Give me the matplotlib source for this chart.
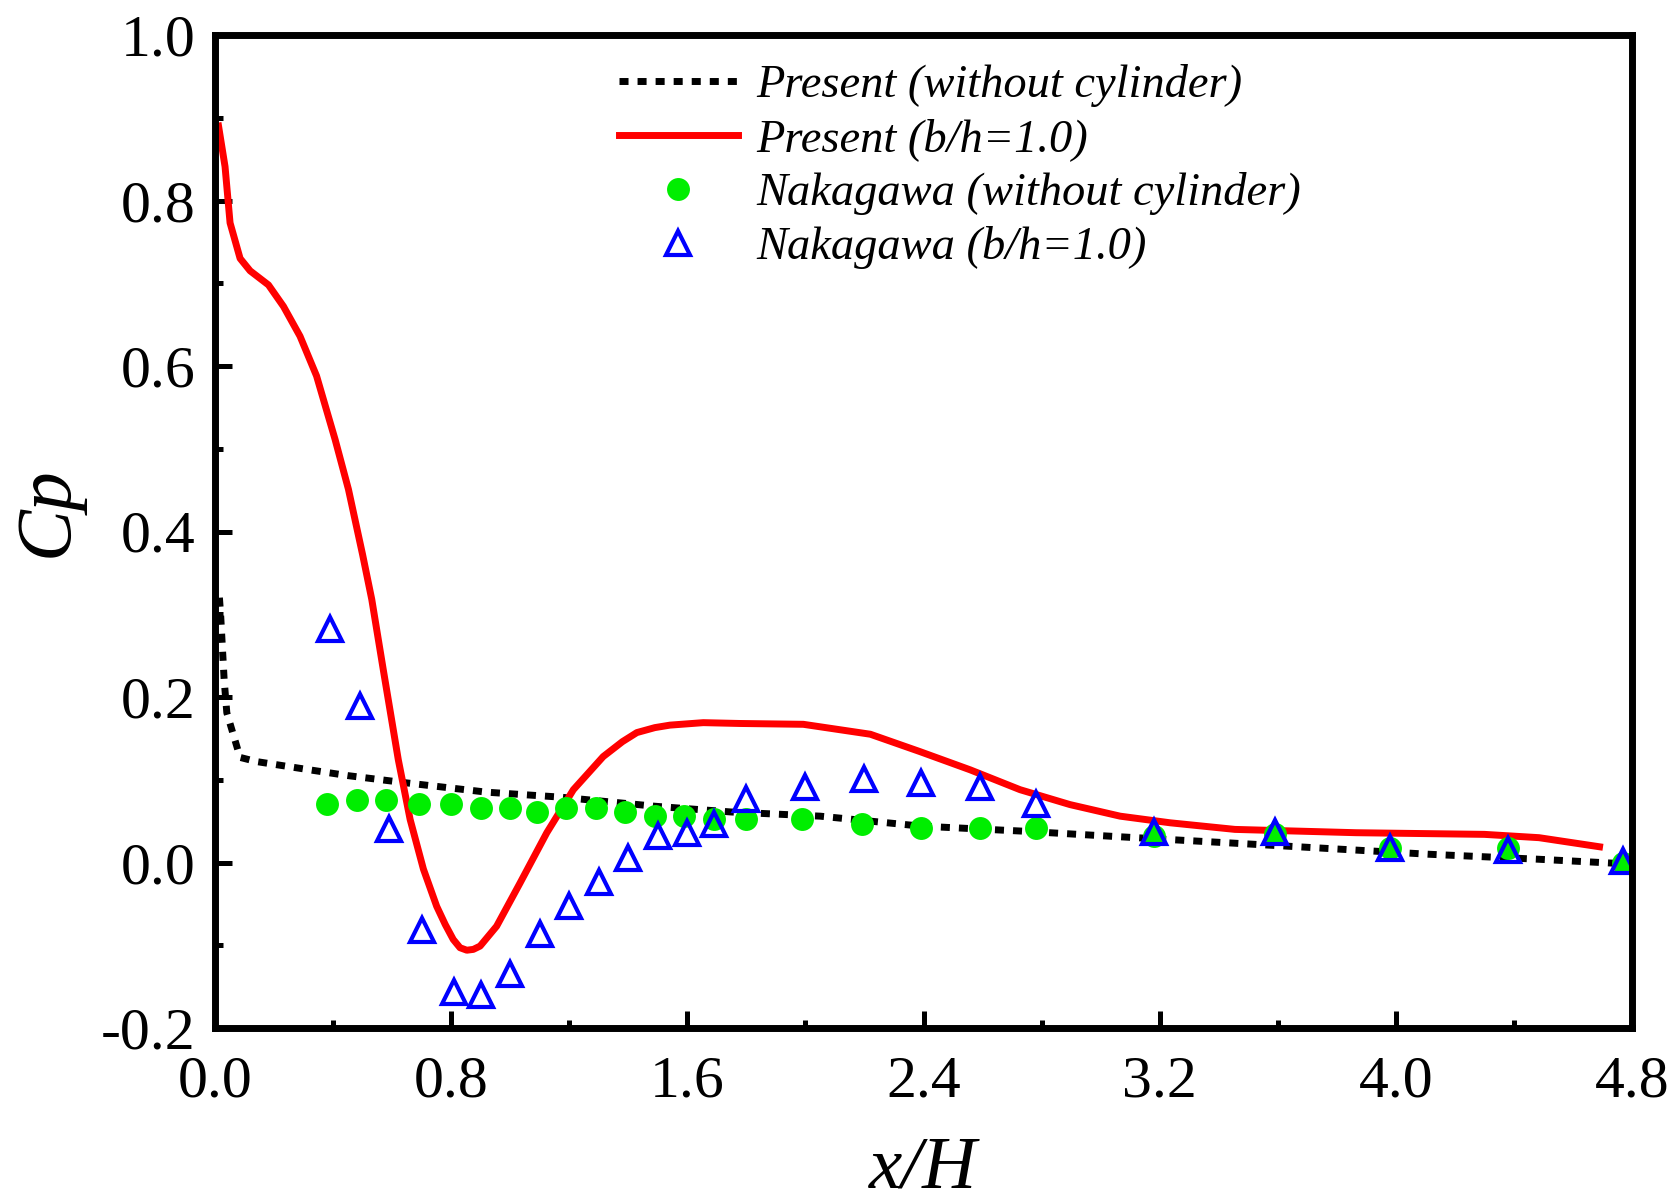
import matplotlib
matplotlib.use("Agg")
import matplotlib.pyplot as plt

plt.rcParams['font.family'] = ['Liberation Serif', 'DejaVu Serif']
plt.rcParams['axes.unicode_minus'] = False

# Present (without cylinder) - dotted black
cyl0_x = [0.015, 0.019, 0.025, 0.031, 0.040, 0.085, 0.14, 0.32, 0.45, 0.63, 0.92, 1.17, 1.49, 1.75,
          2.05, 2.39, 2.73, 3.07, 3.62, 4.11, 4.48, 4.80]
cyl0_y = [0.32, 0.30, 0.26, 0.221, 0.181, 0.127, 0.122, 0.112, 0.105, 0.097, 0.085, 0.079, 0.068, 0.061,
          0.056, 0.044, 0.038, 0.031, 0.020, 0.010, 0.004, -0.002]

# Present (b/h=1.0) - red line
cyl1_x = [0.012, 0.034, 0.051, 0.085, 0.119, 0.181, 0.232, 0.288, 0.344, 0.407, 0.452, 0.50, 0.531,
          0.570, 0.621, 0.661, 0.706, 0.751, 0.780, 0.807, 0.830, 0.853, 0.875, 0.898, 0.954, 1.033,
          1.124, 1.214, 1.315, 1.38, 1.429, 1.49, 1.541, 1.654, 1.778, 1.993, 2.220, 2.388, 2.558, 2.727,
          2.896, 3.066, 3.235, 3.455, 3.865, 4.30, 4.485, 4.69]
cyl1_y = [0.890, 0.841, 0.773, 0.730, 0.715, 0.698, 0.672, 0.636, 0.588, 0.511, 0.451, 0.372, 0.318,
          0.233, 0.124, 0.052, -0.008, -0.053, -0.075, -0.093, -0.103, -0.106, -0.105, -0.101, -0.077,
          -0.025, 0.036, 0.088, 0.128, 0.146, 0.157, 0.163, 0.166, 0.169, 0.168, 0.167, 0.155, 0.134,
          0.112, 0.088, 0.070, 0.056, 0.048, 0.040, 0.036, 0.034, 0.030, 0.019]

# Nakagawa (without cylinder) - green circles
nak0_x = [0.38, 0.48, 0.58, 0.69, 0.80, 0.90, 1.00, 1.09, 1.19, 1.29, 1.39, 1.49, 1.59, 1.69, 1.80,
          1.99, 2.19, 2.39, 2.59, 2.78, 3.18, 3.59, 3.98, 4.38, 4.77]
nak0_y = [0.071, 0.076, 0.076, 0.071, 0.071, 0.066, 0.066, 0.061, 0.066, 0.066, 0.061, 0.056, 0.056,
          0.052, 0.052, 0.052, 0.047, 0.042, 0.042, 0.042, 0.032, 0.034, 0.018, 0.018, 0.0]

# Nakagawa (b/h=1.0) - blue triangles
nak1_x = [0.39, 0.49, 0.59, 0.70, 0.81, 0.90, 1.00, 1.10, 1.20, 1.30, 1.40, 1.50, 1.60, 1.69, 1.80,
          2.00, 2.20, 2.39, 2.59, 2.78, 3.18, 3.59, 3.98, 4.38, 4.77]
nak1_y = [0.282, 0.189, 0.041, -0.082, -0.156, -0.160, -0.135, -0.086, -0.052, -0.023, 0.006, 0.032,
          0.036, 0.047, 0.077, 0.091, 0.101, 0.096, 0.091, 0.071, 0.037, 0.037, 0.018, 0.015, 0.002]

xticks = [0.0, 0.8, 1.6, 2.4, 3.2, 4.0, 4.8]
xtick_labels = ['0.0', '0.8', '1.6', '2.4', '3.2', '4.0', '4.8']
yticks = [-0.2, 0.0, 0.2, 0.4, 0.6, 0.8, 1.0]
ytick_labels = ['-0.2', '0.0', '0.2', '0.4', '0.6', '0.8', '1.0']

fig = plt.figure(figsize=(16.73, 12.03), dpi=100)
ax = fig.add_axes([215 / 1673, 1 - 1028 / 1203, (1632 - 215) / 1673, (1028 - 35) / 1203])

ax.plot(cyl0_x, cyl0_y, color='black', lw=5, linestyle=(0, (1.3, 1.3)), dash_capstyle='butt',
        label='Present (without cylinder)')
ax.plot(cyl1_x, cyl1_y, color='#ff0000', lw=5, solid_joinstyle='round', label='Present (b/h=1.0)')
ax.plot(nak0_x, nak0_y, 'o', color='#00ee00', markersize=16.5, markeredgewidth=0,
        label='Nakagawa (without cylinder)')
ax.plot(nak1_x, nak1_y, '^', markerfacecolor='none', markeredgecolor='#0000ff', markersize=17,
        markeredgewidth=3, label='Nakagawa (b/h=1.0)')

ax.set_xlim(0, 4.8)
ax.set_ylim(-0.2, 1.0)
ax.set_xticks(xticks)
ax.set_xticklabels(xtick_labels)
ax.set_yticks(yticks)
ax.set_yticklabels(ytick_labels)
ax.set_xticks([0.4, 1.2, 2.0, 2.8, 3.6, 4.4], minor=True)
ax.set_yticks([-0.1, 0.1, 0.3, 0.5, 0.7, 0.9], minor=True)
ax.tick_params(which='major', direction='in', length=12, width=3.6, labelsize=43)
ax.tick_params(axis='x', which='major', pad=20)
ax.tick_params(axis='y', which='major', pad=14)
ax.tick_params(which='minor', direction='in', length=6, width=3.6)

for side in ['left', 'right', 'top', 'bottom']:
    ax.spines[side].set_linewidth(5)

ax.set_xlabel('x/H', fontsize=54, fontstyle='italic', va='center')
ax.xaxis.set_label_coords(0.5, -0.143)
ax.set_ylabel('Cp', fontsize=56, fontstyle='italic', va='center')
ax.yaxis.set_label_coords(-0.118, 0.52)

leg = ax.legend(loc='upper left', bbox_to_anchor=(619 / 1673, 1 - 64 / 1203),
                bbox_transform=fig.transFigure, frameon=False, numpoints=1,
                prop={'family': 'Liberation Serif', 'style': 'italic', 'size': 33.5},
                handlelength=2.55, handletextpad=0.41, labelspacing=0.24,
                borderpad=0, borderaxespad=0)

fig.savefig('out.png', dpi=100)
